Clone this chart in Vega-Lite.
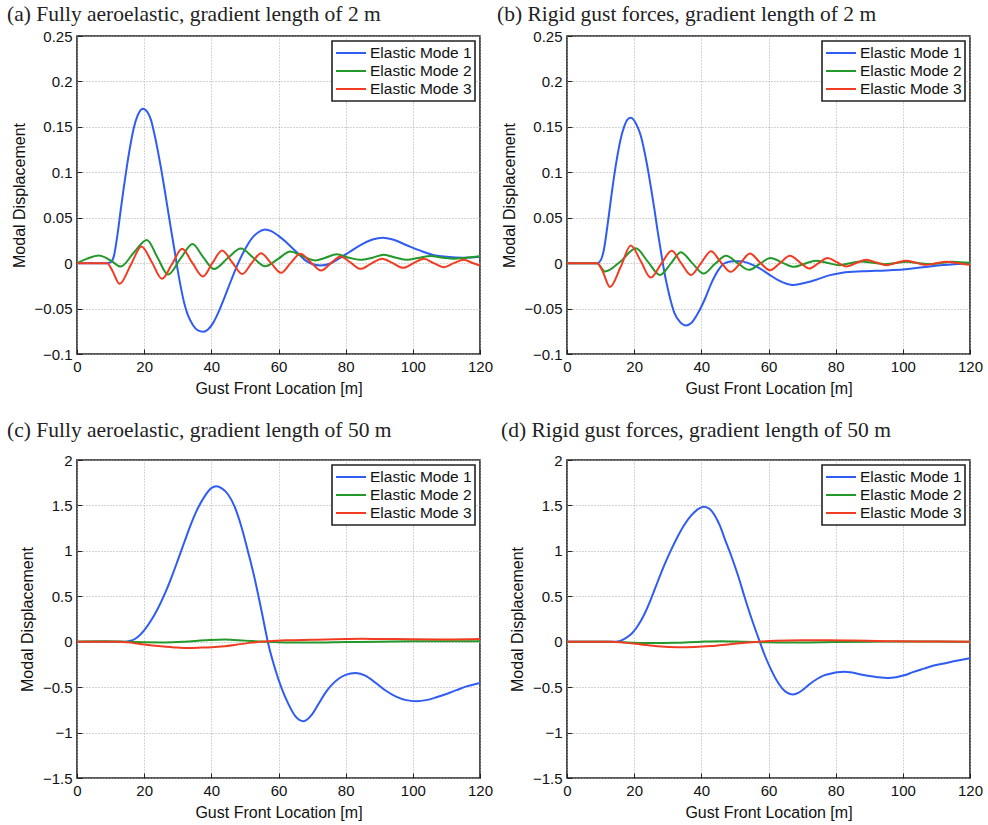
{
"$schema": "https://vega.github.io/schema/vega-lite/v6.json",
"background": "white",
"padding": {"left": 6, "top": 2, "right": 6, "bottom": 4},
"config": {
  "view": {"stroke": "#222222", "strokeWidth": 1.6},
  "font": "Liberation Sans",
  "title": {"font": "Liberation Serif", "fontSize": 21.5, "fontWeight": "normal", "anchor": "start", "frame": "group", "color": "#222222"},
  "axis": {"domain": false, "grid": true, "gridColor": "#a8a8a8", "gridDash": [1, 2], "gridWidth": 1, "ticks": true, "tickSize": -5, "tickColor": "#222222", "tickWidth": 1, "labelPadding": 10, "labelFlush": false, "labelFont": "Liberation Sans", "labelFontSize": 15, "labelColor": "#111111", "titleFont": "Liberation Sans", "titleFontSize": 16, "titleFontWeight": "normal", "titleColor": "#111111"},
  "axisY": {"titlePadding": 7},
  "axisX": {"titlePadding": 6},
  "legend": {"orient": "top-right", "offset": 5, "strokeColor": "#222222", "strokeWidth": 1.6, "fillColor": "white", "padding": 3, "rowPadding": 0, "symbolType": "M-1.875,0H1.875", "symbolSize": 256, "symbolOffset": 7, "labelOffset": 10, "symbolStrokeWidth": 2, "labelFont": "Liberation Sans", "labelFontSize": 15.5, "labelColor": "#111111", "title": null}
},
"datasets": {
 "a": [
  {"mode":"Elastic Mode 1","x":0,"y":0},{"mode":"Elastic Mode 1","x":5,"y":0},{"mode":"Elastic Mode 1","x":9,"y":0},{"mode":"Elastic Mode 1","x":10,"y":0.001},{"mode":"Elastic Mode 1","x":11,"y":0.008},{"mode":"Elastic Mode 1","x":12,"y":0.03},{"mode":"Elastic Mode 1","x":13,"y":0.058},{"mode":"Elastic Mode 1","x":14,"y":0.085},{"mode":"Elastic Mode 1","x":15,"y":0.11},{"mode":"Elastic Mode 1","x":16,"y":0.132},{"mode":"Elastic Mode 1","x":17,"y":0.15},{"mode":"Elastic Mode 1","x":18,"y":0.162},{"mode":"Elastic Mode 1","x":19.6,"y":0.17},{"mode":"Elastic Mode 1","x":21,"y":0.166},{"mode":"Elastic Mode 1","x":22,"y":0.158},{"mode":"Elastic Mode 1","x":23,"y":0.143},{"mode":"Elastic Mode 1","x":24,"y":0.125},{"mode":"Elastic Mode 1","x":25,"y":0.105},{"mode":"Elastic Mode 1","x":26,"y":0.083},{"mode":"Elastic Mode 1","x":27,"y":0.06},{"mode":"Elastic Mode 1","x":28,"y":0.037},{"mode":"Elastic Mode 1","x":29,"y":0.015},{"mode":"Elastic Mode 1","x":30,"y":-0.008},{"mode":"Elastic Mode 1","x":31,"y":-0.028},{"mode":"Elastic Mode 1","x":32,"y":-0.045},{"mode":"Elastic Mode 1","x":33,"y":-0.057},{"mode":"Elastic Mode 1","x":34.5,"y":-0.068},{"mode":"Elastic Mode 1","x":36,"y":-0.074},{"mode":"Elastic Mode 1","x":37.6,"y":-0.0755},{"mode":"Elastic Mode 1","x":39,"y":-0.073},{"mode":"Elastic Mode 1","x":40.5,"y":-0.066},{"mode":"Elastic Mode 1","x":42,"y":-0.055},{"mode":"Elastic Mode 1","x":44,"y":-0.037},{"mode":"Elastic Mode 1","x":46,"y":-0.018},{"mode":"Elastic Mode 1","x":48,"y":0},{"mode":"Elastic Mode 1","x":50,"y":0.015},{"mode":"Elastic Mode 1","x":52,"y":0.027},{"mode":"Elastic Mode 1","x":54,"y":0.034},{"mode":"Elastic Mode 1","x":56,"y":0.037},{"mode":"Elastic Mode 1","x":58,"y":0.035},{"mode":"Elastic Mode 1","x":60,"y":0.03},{"mode":"Elastic Mode 1","x":62,"y":0.024},{"mode":"Elastic Mode 1","x":64,"y":0.017},{"mode":"Elastic Mode 1","x":66,"y":0.01},{"mode":"Elastic Mode 1","x":68,"y":0.003},{"mode":"Elastic Mode 1","x":70,"y":-0.001},{"mode":"Elastic Mode 1","x":72.5,"y":-0.0026},{"mode":"Elastic Mode 1","x":75,"y":-0.001},{"mode":"Elastic Mode 1","x":78,"y":0.005},{"mode":"Elastic Mode 1","x":81,"y":0.012},{"mode":"Elastic Mode 1","x":84,"y":0.019},{"mode":"Elastic Mode 1","x":88,"y":0.026},{"mode":"Elastic Mode 1","x":91,"y":0.028},{"mode":"Elastic Mode 1","x":94,"y":0.026},{"mode":"Elastic Mode 1","x":98,"y":0.02},{"mode":"Elastic Mode 1","x":102,"y":0.014},{"mode":"Elastic Mode 1","x":106,"y":0.009},{"mode":"Elastic Mode 1","x":110,"y":0.007},{"mode":"Elastic Mode 1","x":115,"y":0.006},{"mode":"Elastic Mode 1","x":120,"y":0.007},
  {"mode":"Elastic Mode 2","x":0,"y":0},{"mode":"Elastic Mode 2","x":3,"y":0.005},{"mode":"Elastic Mode 2","x":6.5,"y":0.0085},{"mode":"Elastic Mode 2","x":10,"y":0.003},{"mode":"Elastic Mode 2","x":13,"y":-0.0037},{"mode":"Elastic Mode 2","x":17,"y":0.012},{"mode":"Elastic Mode 2","x":20.8,"y":0.0255},{"mode":"Elastic Mode 2","x":24,"y":0.006},{"mode":"Elastic Mode 2","x":27.1,"y":-0.0125},{"mode":"Elastic Mode 2","x":31,"y":0.006},{"mode":"Elastic Mode 2","x":34.4,"y":0.021},{"mode":"Elastic Mode 2","x":37.5,"y":0.007},{"mode":"Elastic Mode 2","x":40.8,"y":-0.0065},{"mode":"Elastic Mode 2","x":45,"y":0.006},{"mode":"Elastic Mode 2","x":48.8,"y":0.016},{"mode":"Elastic Mode 2","x":52.5,"y":0.006},{"mode":"Elastic Mode 2","x":56,"y":-0.0035},{"mode":"Elastic Mode 2","x":60,"y":0.005},{"mode":"Elastic Mode 2","x":63.5,"y":0.0129},{"mode":"Elastic Mode 2","x":67,"y":0.008},{"mode":"Elastic Mode 2","x":71,"y":0.003},{"mode":"Elastic Mode 2","x":74,"y":0.006},{"mode":"Elastic Mode 2","x":77.3,"y":0.0097},{"mode":"Elastic Mode 2","x":81,"y":0.006},{"mode":"Elastic Mode 2","x":84.2,"y":0.0037},{"mode":"Elastic Mode 2","x":88,"y":0.006},{"mode":"Elastic Mode 2","x":91.3,"y":0.0092},{"mode":"Elastic Mode 2","x":95,"y":0.006},{"mode":"Elastic Mode 2","x":98.2,"y":0.0037},{"mode":"Elastic Mode 2","x":102,"y":0.006},{"mode":"Elastic Mode 2","x":105.2,"y":0.0078},{"mode":"Elastic Mode 2","x":109,"y":0.006},{"mode":"Elastic Mode 2","x":112.2,"y":0.0048},{"mode":"Elastic Mode 2","x":116,"y":0.006},{"mode":"Elastic Mode 2","x":120,"y":0.0075},
  {"mode":"Elastic Mode 3","x":0,"y":0},{"mode":"Elastic Mode 3","x":9,"y":0},{"mode":"Elastic Mode 3","x":10.5,"y":-0.008},{"mode":"Elastic Mode 3","x":12.7,"y":-0.0228},{"mode":"Elastic Mode 3","x":16,"y":-0.002},{"mode":"Elastic Mode 3","x":19.2,"y":0.0184},{"mode":"Elastic Mode 3","x":22.3,"y":0.001},{"mode":"Elastic Mode 3","x":25.3,"y":-0.0173},{"mode":"Elastic Mode 3","x":28.3,"y":-0.001},{"mode":"Elastic Mode 3","x":31.3,"y":0.0158},{"mode":"Elastic Mode 3","x":34.4,"y":0},{"mode":"Elastic Mode 3","x":37.5,"y":-0.0147},{"mode":"Elastic Mode 3","x":40.3,"y":0},{"mode":"Elastic Mode 3","x":43.2,"y":0.014},{"mode":"Elastic Mode 3","x":46.2,"y":0.001},{"mode":"Elastic Mode 3","x":49.2,"y":-0.012},{"mode":"Elastic Mode 3","x":52,"y":0},{"mode":"Elastic Mode 3","x":54.8,"y":0.011},{"mode":"Elastic Mode 3","x":57.8,"y":0},{"mode":"Elastic Mode 3","x":60.8,"y":-0.0107},{"mode":"Elastic Mode 3","x":63.6,"y":0},{"mode":"Elastic Mode 3","x":66.5,"y":0.0103},{"mode":"Elastic Mode 3","x":69.6,"y":0.001},{"mode":"Elastic Mode 3","x":72.7,"y":-0.0081},{"mode":"Elastic Mode 3","x":75.6,"y":0},{"mode":"Elastic Mode 3","x":78.5,"y":0.0074},{"mode":"Elastic Mode 3","x":81.5,"y":0.0005},{"mode":"Elastic Mode 3","x":84.4,"y":-0.0063},{"mode":"Elastic Mode 3","x":87.6,"y":-0.0005},{"mode":"Elastic Mode 3","x":90.9,"y":0.0048},{"mode":"Elastic Mode 3","x":94,"y":0},{"mode":"Elastic Mode 3","x":97.1,"y":-0.0051},{"mode":"Elastic Mode 3","x":100.2,"y":0},{"mode":"Elastic Mode 3","x":103.3,"y":0.0048},{"mode":"Elastic Mode 3","x":106.2,"y":0},{"mode":"Elastic Mode 3","x":109.2,"y":-0.0044},{"mode":"Elastic Mode 3","x":112.2,"y":0},{"mode":"Elastic Mode 3","x":115.2,"y":0.0037},{"mode":"Elastic Mode 3","x":117.6,"y":0.0005},{"mode":"Elastic Mode 3","x":120,"y":-0.0026}
 ],
 "b": [
  {"mode":"Elastic Mode 1","x":0,"y":0},{"mode":"Elastic Mode 1","x":5,"y":0},{"mode":"Elastic Mode 1","x":9,"y":0},{"mode":"Elastic Mode 1","x":10,"y":0.003},{"mode":"Elastic Mode 1","x":11,"y":0.015},{"mode":"Elastic Mode 1","x":12,"y":0.04},{"mode":"Elastic Mode 1","x":13,"y":0.068},{"mode":"Elastic Mode 1","x":14,"y":0.095},{"mode":"Elastic Mode 1","x":15,"y":0.118},{"mode":"Elastic Mode 1","x":16,"y":0.137},{"mode":"Elastic Mode 1","x":17,"y":0.15},{"mode":"Elastic Mode 1","x":18,"y":0.158},{"mode":"Elastic Mode 1","x":19,"y":0.16},{"mode":"Elastic Mode 1","x":20,"y":0.157},{"mode":"Elastic Mode 1","x":21,"y":0.15},{"mode":"Elastic Mode 1","x":22,"y":0.14},{"mode":"Elastic Mode 1","x":23,"y":0.124},{"mode":"Elastic Mode 1","x":24,"y":0.105},{"mode":"Elastic Mode 1","x":25,"y":0.083},{"mode":"Elastic Mode 1","x":26,"y":0.06},{"mode":"Elastic Mode 1","x":27,"y":0.035},{"mode":"Elastic Mode 1","x":28,"y":0.012},{"mode":"Elastic Mode 1","x":29,"y":-0.01},{"mode":"Elastic Mode 1","x":30,"y":-0.028},{"mode":"Elastic Mode 1","x":31,"y":-0.043},{"mode":"Elastic Mode 1","x":32,"y":-0.055},{"mode":"Elastic Mode 1","x":33.5,"y":-0.064},{"mode":"Elastic Mode 1","x":35.5,"y":-0.0685},{"mode":"Elastic Mode 1","x":37,"y":-0.066},{"mode":"Elastic Mode 1","x":39,"y":-0.055},{"mode":"Elastic Mode 1","x":41,"y":-0.04},{"mode":"Elastic Mode 1","x":43,"y":-0.022},{"mode":"Elastic Mode 1","x":45,"y":-0.008},{"mode":"Elastic Mode 1","x":47,"y":0},{"mode":"Elastic Mode 1","x":49.5,"y":0.002},{"mode":"Elastic Mode 1","x":51.7,"y":0.0022},{"mode":"Elastic Mode 1","x":54,"y":0},{"mode":"Elastic Mode 1","x":57,"y":-0.005},{"mode":"Elastic Mode 1","x":60,"y":-0.012},{"mode":"Elastic Mode 1","x":63,"y":-0.019},{"mode":"Elastic Mode 1","x":67,"y":-0.024},{"mode":"Elastic Mode 1","x":70,"y":-0.0225},{"mode":"Elastic Mode 1","x":74,"y":-0.0185},{"mode":"Elastic Mode 1","x":78,"y":-0.0135},{"mode":"Elastic Mode 1","x":82,"y":-0.0105},{"mode":"Elastic Mode 1","x":88,"y":-0.009},{"mode":"Elastic Mode 1","x":95,"y":-0.008},{"mode":"Elastic Mode 1","x":100,"y":-0.007},{"mode":"Elastic Mode 1","x":106,"y":-0.0045},{"mode":"Elastic Mode 1","x":112,"y":-0.002},{"mode":"Elastic Mode 1","x":120,"y":0},
  {"mode":"Elastic Mode 2","x":0,"y":0},{"mode":"Elastic Mode 2","x":9,"y":0},{"mode":"Elastic Mode 2","x":11.3,"y":-0.0093},{"mode":"Elastic Mode 2","x":16,"y":0.002},{"mode":"Elastic Mode 2","x":20.5,"y":0.0163},{"mode":"Elastic Mode 2","x":24,"y":0.002},{"mode":"Elastic Mode 2","x":27.7,"y":-0.013},{"mode":"Elastic Mode 2","x":31,"y":0},{"mode":"Elastic Mode 2","x":33.9,"y":0.0119},{"mode":"Elastic Mode 2","x":37.3,"y":0},{"mode":"Elastic Mode 2","x":40.7,"y":-0.0115},{"mode":"Elastic Mode 2","x":44,"y":-0.001},{"mode":"Elastic Mode 2","x":47.4,"y":0.0081},{"mode":"Elastic Mode 2","x":50.8,"y":0},{"mode":"Elastic Mode 2","x":54.2,"y":-0.0074},{"mode":"Elastic Mode 2","x":57.4,"y":-0.0008},{"mode":"Elastic Mode 2","x":60.6,"y":0.0056},{"mode":"Elastic Mode 2","x":64.1,"y":0.0006},{"mode":"Elastic Mode 2","x":67.6,"y":-0.0041},{"mode":"Elastic Mode 2","x":70.8,"y":-0.0006},{"mode":"Elastic Mode 2","x":74.1,"y":0.0026},{"mode":"Elastic Mode 2","x":77.6,"y":0.0002},{"mode":"Elastic Mode 2","x":81.1,"y":-0.0022},{"mode":"Elastic Mode 2","x":84.3,"y":0},{"mode":"Elastic Mode 2","x":87.6,"y":0.0019},{"mode":"Elastic Mode 2","x":91.1,"y":0.0004},{"mode":"Elastic Mode 2","x":94.6,"y":-0.0011},{"mode":"Elastic Mode 2","x":97.8,"y":0.0002},{"mode":"Elastic Mode 2","x":101,"y":0.0015},{"mode":"Elastic Mode 2","x":104.5,"y":0.0002},{"mode":"Elastic Mode 2","x":108,"y":-0.001},{"mode":"Elastic Mode 2","x":111.3,"y":0.0002},{"mode":"Elastic Mode 2","x":114.5,"y":0.0015},{"mode":"Elastic Mode 2","x":117,"y":0.001},{"mode":"Elastic Mode 2","x":120,"y":0.0005},
  {"mode":"Elastic Mode 3","x":0,"y":0},{"mode":"Elastic Mode 3","x":9,"y":0},{"mode":"Elastic Mode 3","x":10.5,"y":-0.008},{"mode":"Elastic Mode 3","x":12.8,"y":-0.0263},{"mode":"Elastic Mode 3","x":16,"y":-0.004},{"mode":"Elastic Mode 3","x":19,"y":0.0193},{"mode":"Elastic Mode 3","x":22,"y":0.002},{"mode":"Elastic Mode 3","x":24.9,"y":-0.0159},{"mode":"Elastic Mode 3","x":28,"y":-0.001},{"mode":"Elastic Mode 3","x":31.2,"y":0.0137},{"mode":"Elastic Mode 3","x":34,"y":0},{"mode":"Elastic Mode 3","x":36.9,"y":-0.013},{"mode":"Elastic Mode 3","x":39.9,"y":0},{"mode":"Elastic Mode 3","x":42.9,"y":0.013},{"mode":"Elastic Mode 3","x":45.8,"y":0.001},{"mode":"Elastic Mode 3","x":48.7,"y":-0.0096},{"mode":"Elastic Mode 3","x":51.6,"y":0},{"mode":"Elastic Mode 3","x":54.5,"y":0.0107},{"mode":"Elastic Mode 3","x":57.4,"y":0.001},{"mode":"Elastic Mode 3","x":60.4,"y":-0.0078},{"mode":"Elastic Mode 3","x":63.4,"y":0},{"mode":"Elastic Mode 3","x":66.4,"y":0.0081},{"mode":"Elastic Mode 3","x":69.3,"y":0.001},{"mode":"Elastic Mode 3","x":72.1,"y":-0.0059},{"mode":"Elastic Mode 3","x":74.9,"y":0},{"mode":"Elastic Mode 3","x":77.6,"y":0.0056},{"mode":"Elastic Mode 3","x":80.4,"y":0.001},{"mode":"Elastic Mode 3","x":83.1,"y":-0.0037},{"mode":"Elastic Mode 3","x":86.1,"y":0},{"mode":"Elastic Mode 3","x":89.1,"y":0.0037},{"mode":"Elastic Mode 3","x":92.1,"y":0.0007},{"mode":"Elastic Mode 3","x":95.1,"y":-0.0022},{"mode":"Elastic Mode 3","x":98,"y":0.0002},{"mode":"Elastic Mode 3","x":101,"y":0.0026},{"mode":"Elastic Mode 3","x":104,"y":0.0003},{"mode":"Elastic Mode 3","x":107,"y":-0.0019},{"mode":"Elastic Mode 3","x":110,"y":0},{"mode":"Elastic Mode 3","x":113,"y":0.0015},{"mode":"Elastic Mode 3","x":116.5,"y":0},{"mode":"Elastic Mode 3","x":120,"y":-0.0019}
 ],
 "c": [
  {"mode":"Elastic Mode 1","x":0,"y":0},{"mode":"Elastic Mode 1","x":10,"y":0},{"mode":"Elastic Mode 1","x":14,"y":0},{"mode":"Elastic Mode 1","x":15,"y":0.003},{"mode":"Elastic Mode 1","x":16,"y":0.01},{"mode":"Elastic Mode 1","x":18,"y":0.05},{"mode":"Elastic Mode 1","x":20,"y":0.125},{"mode":"Elastic Mode 1","x":22,"y":0.23},{"mode":"Elastic Mode 1","x":24,"y":0.36},{"mode":"Elastic Mode 1","x":26,"y":0.515},{"mode":"Elastic Mode 1","x":28,"y":0.695},{"mode":"Elastic Mode 1","x":30,"y":0.895},{"mode":"Elastic Mode 1","x":32,"y":1.1},{"mode":"Elastic Mode 1","x":34,"y":1.3},{"mode":"Elastic Mode 1","x":36,"y":1.47},{"mode":"Elastic Mode 1","x":38,"y":1.6},{"mode":"Elastic Mode 1","x":40,"y":1.69},{"mode":"Elastic Mode 1","x":41.5,"y":1.71},{"mode":"Elastic Mode 1","x":43,"y":1.69},{"mode":"Elastic Mode 1","x":45,"y":1.62},{"mode":"Elastic Mode 1","x":47,"y":1.48},{"mode":"Elastic Mode 1","x":49,"y":1.26},{"mode":"Elastic Mode 1","x":51,"y":0.98},{"mode":"Elastic Mode 1","x":53,"y":0.68},{"mode":"Elastic Mode 1","x":55,"y":0.33},{"mode":"Elastic Mode 1","x":57,"y":-0.03},{"mode":"Elastic Mode 1","x":59,"y":-0.3},{"mode":"Elastic Mode 1","x":61,"y":-0.52},{"mode":"Elastic Mode 1","x":63,"y":-0.69},{"mode":"Elastic Mode 1","x":65,"y":-0.82},{"mode":"Elastic Mode 1","x":67.4,"y":-0.876},{"mode":"Elastic Mode 1","x":70,"y":-0.8},{"mode":"Elastic Mode 1","x":72,"y":-0.68},{"mode":"Elastic Mode 1","x":74,"y":-0.56},{"mode":"Elastic Mode 1","x":76,"y":-0.47},{"mode":"Elastic Mode 1","x":78,"y":-0.405},{"mode":"Elastic Mode 1","x":80,"y":-0.365},{"mode":"Elastic Mode 1","x":83,"y":-0.343},{"mode":"Elastic Mode 1","x":86,"y":-0.375},{"mode":"Elastic Mode 1","x":89,"y":-0.455},{"mode":"Elastic Mode 1","x":92,"y":-0.54},{"mode":"Elastic Mode 1","x":95,"y":-0.605},{"mode":"Elastic Mode 1","x":98,"y":-0.643},{"mode":"Elastic Mode 1","x":101,"y":-0.655},{"mode":"Elastic Mode 1","x":104,"y":-0.643},{"mode":"Elastic Mode 1","x":107,"y":-0.612},{"mode":"Elastic Mode 1","x":110,"y":-0.575},{"mode":"Elastic Mode 1","x":113,"y":-0.533},{"mode":"Elastic Mode 1","x":116,"y":-0.492},{"mode":"Elastic Mode 1","x":120,"y":-0.453},
  {"mode":"Elastic Mode 2","x":0,"y":0},{"mode":"Elastic Mode 2","x":8,"y":0.004},{"mode":"Elastic Mode 2","x":14,"y":0},{"mode":"Elastic Mode 2","x":20,"y":-0.006},{"mode":"Elastic Mode 2","x":26,"y":-0.008},{"mode":"Elastic Mode 2","x":32,"y":0},{"mode":"Elastic Mode 2","x":38,"y":0.015},{"mode":"Elastic Mode 2","x":44,"y":0.025},{"mode":"Elastic Mode 2","x":50,"y":0.012},{"mode":"Elastic Mode 2","x":56,"y":0},{"mode":"Elastic Mode 2","x":62,"y":-0.008},{"mode":"Elastic Mode 2","x":70,"y":-0.01},{"mode":"Elastic Mode 2","x":80,"y":-0.004},{"mode":"Elastic Mode 2","x":90,"y":0},{"mode":"Elastic Mode 2","x":100,"y":0.004},{"mode":"Elastic Mode 2","x":110,"y":0.005},{"mode":"Elastic Mode 2","x":120,"y":0.005},
  {"mode":"Elastic Mode 3","x":0,"y":0},{"mode":"Elastic Mode 3","x":12,"y":0},{"mode":"Elastic Mode 3","x":16,"y":-0.01},{"mode":"Elastic Mode 3","x":20,"y":-0.03},{"mode":"Elastic Mode 3","x":25,"y":-0.05},{"mode":"Elastic Mode 3","x":30,"y":-0.065},{"mode":"Elastic Mode 3","x":33,"y":-0.07},{"mode":"Elastic Mode 3","x":37,"y":-0.065},{"mode":"Elastic Mode 3","x":42,"y":-0.055},{"mode":"Elastic Mode 3","x":47,"y":-0.035},{"mode":"Elastic Mode 3","x":52,"y":-0.01},{"mode":"Elastic Mode 3","x":57,"y":0.005},{"mode":"Elastic Mode 3","x":62,"y":0.015},{"mode":"Elastic Mode 3","x":70,"y":0.022},{"mode":"Elastic Mode 3","x":80,"y":0.03},{"mode":"Elastic Mode 3","x":85,"y":0.032},{"mode":"Elastic Mode 3","x":90,"y":0.03},{"mode":"Elastic Mode 3","x":100,"y":0.028},{"mode":"Elastic Mode 3","x":110,"y":0.025},{"mode":"Elastic Mode 3","x":120,"y":0.03}
 ],
 "d": [
  {"mode":"Elastic Mode 1","x":0,"y":0},{"mode":"Elastic Mode 1","x":10,"y":0},{"mode":"Elastic Mode 1","x":14,"y":0},{"mode":"Elastic Mode 1","x":15,"y":0.003},{"mode":"Elastic Mode 1","x":16,"y":0.012},{"mode":"Elastic Mode 1","x":17.5,"y":0.04},{"mode":"Elastic Mode 1","x":19.3,"y":0.09},{"mode":"Elastic Mode 1","x":21,"y":0.17},{"mode":"Elastic Mode 1","x":23,"y":0.3},{"mode":"Elastic Mode 1","x":25,"y":0.47},{"mode":"Elastic Mode 1","x":27,"y":0.66},{"mode":"Elastic Mode 1","x":29,"y":0.845},{"mode":"Elastic Mode 1","x":31,"y":1.01},{"mode":"Elastic Mode 1","x":33,"y":1.16},{"mode":"Elastic Mode 1","x":35,"y":1.29},{"mode":"Elastic Mode 1","x":37,"y":1.39},{"mode":"Elastic Mode 1","x":39,"y":1.46},{"mode":"Elastic Mode 1","x":40.8,"y":1.486},{"mode":"Elastic Mode 1","x":42.5,"y":1.46},{"mode":"Elastic Mode 1","x":44,"y":1.39},{"mode":"Elastic Mode 1","x":45.5,"y":1.28},{"mode":"Elastic Mode 1","x":47,"y":1.13},{"mode":"Elastic Mode 1","x":49,"y":0.935},{"mode":"Elastic Mode 1","x":51,"y":0.72},{"mode":"Elastic Mode 1","x":52.9,"y":0.49},{"mode":"Elastic Mode 1","x":55,"y":0.25},{"mode":"Elastic Mode 1","x":57.4,"y":0},{"mode":"Elastic Mode 1","x":59,"y":-0.16},{"mode":"Elastic Mode 1","x":60.8,"y":-0.31},{"mode":"Elastic Mode 1","x":62.5,"y":-0.43},{"mode":"Elastic Mode 1","x":64,"y":-0.51},{"mode":"Elastic Mode 1","x":65.5,"y":-0.56},{"mode":"Elastic Mode 1","x":67.3,"y":-0.58},{"mode":"Elastic Mode 1","x":69,"y":-0.56},{"mode":"Elastic Mode 1","x":70.7,"y":-0.515},{"mode":"Elastic Mode 1","x":72.5,"y":-0.46},{"mode":"Elastic Mode 1","x":74.7,"y":-0.405},{"mode":"Elastic Mode 1","x":76.5,"y":-0.37},{"mode":"Elastic Mode 1","x":78.6,"y":-0.35},{"mode":"Elastic Mode 1","x":80.5,"y":-0.335},{"mode":"Elastic Mode 1","x":82.6,"y":-0.33},{"mode":"Elastic Mode 1","x":85,"y":-0.34},{"mode":"Elastic Mode 1","x":87.5,"y":-0.36},{"mode":"Elastic Mode 1","x":90,"y":-0.378},{"mode":"Elastic Mode 1","x":92.5,"y":-0.39},{"mode":"Elastic Mode 1","x":95.5,"y":-0.398},{"mode":"Elastic Mode 1","x":98,"y":-0.39},{"mode":"Elastic Mode 1","x":100.4,"y":-0.37},{"mode":"Elastic Mode 1","x":103,"y":-0.335},{"mode":"Elastic Mode 1","x":106.3,"y":-0.296},{"mode":"Elastic Mode 1","x":109,"y":-0.265},{"mode":"Elastic Mode 1","x":112.3,"y":-0.24},{"mode":"Elastic Mode 1","x":116,"y":-0.21},{"mode":"Elastic Mode 1","x":120,"y":-0.182},
  {"mode":"Elastic Mode 2","x":0,"y":0},{"mode":"Elastic Mode 2","x":12,"y":0},{"mode":"Elastic Mode 2","x":18,"y":-0.008},{"mode":"Elastic Mode 2","x":25,"y":-0.015},{"mode":"Elastic Mode 2","x":32,"y":-0.012},{"mode":"Elastic Mode 2","x":40,"y":0},{"mode":"Elastic Mode 2","x":46,"y":0.005},{"mode":"Elastic Mode 2","x":52,"y":0},{"mode":"Elastic Mode 2","x":58,"y":-0.005},{"mode":"Elastic Mode 2","x":65,"y":-0.01},{"mode":"Elastic Mode 2","x":72,"y":-0.008},{"mode":"Elastic Mode 2","x":80,"y":-0.003},{"mode":"Elastic Mode 2","x":90,"y":0},{"mode":"Elastic Mode 2","x":100,"y":0.002},{"mode":"Elastic Mode 2","x":110,"y":0.001},{"mode":"Elastic Mode 2","x":120,"y":0},
  {"mode":"Elastic Mode 3","x":0,"y":0},{"mode":"Elastic Mode 3","x":13,"y":0},{"mode":"Elastic Mode 3","x":17,"y":-0.01},{"mode":"Elastic Mode 3","x":22,"y":-0.03},{"mode":"Elastic Mode 3","x":27,"y":-0.05},{"mode":"Elastic Mode 3","x":33,"y":-0.06},{"mode":"Elastic Mode 3","x":38,"y":-0.058},{"mode":"Elastic Mode 3","x":43,"y":-0.048},{"mode":"Elastic Mode 3","x":48,"y":-0.03},{"mode":"Elastic Mode 3","x":53,"y":-0.012},{"mode":"Elastic Mode 3","x":57,"y":0},{"mode":"Elastic Mode 3","x":62,"y":0.01},{"mode":"Elastic Mode 3","x":70,"y":0.015},{"mode":"Elastic Mode 3","x":78,"y":0.015},{"mode":"Elastic Mode 3","x":85,"y":0.012},{"mode":"Elastic Mode 3","x":95,"y":0.006},{"mode":"Elastic Mode 3","x":105,"y":0.003},{"mode":"Elastic Mode 3","x":120,"y":0}
 ]
},
"columns": 2,
"bounds": "flush",
"spacing": {"row": 106, "column": 87},
"resolve": {"legend": {"color": "independent"}, "scale": {"y": "independent"}},
"concat": [
 {
  "width": 403, "height": 318,
  "title": {"text": "(a) Fully aeroelastic, gradient length of 2 m", "offset": 4, "dx": -70},
  "data": {"name": "a"},
  "mark": {"type": "line", "interpolate": "monotone", "strokeWidth": 2, "clip": true},
  "encoding": {
   "x": {"field": "x", "type": "quantitative", "scale": {"domain": [0, 120], "nice": false}, "axis": {"values": [0, 20, 40, 60, 80, 100, 120], "title": "Gust Front Location [m]"}},
   "y": {"field": "y", "type": "quantitative", "scale": {"domain": [-0.1, 0.25], "nice": false}, "axis": {"values": [-0.1, -0.05, 0, 0.05, 0.1, 0.15, 0.2, 0.25], "format": "~g", "title": "Modal Displacement"}},
   "color": {"field": "mode", "type": "nominal", "scale": {"domain": ["Elastic Mode 1", "Elastic Mode 2", "Elastic Mode 3"], "range": ["#2f5cf2", "#22992a", "#f23c22"]}}
  }
 },
 {
  "width": 403, "height": 318,
  "title": {"text": "(b) Rigid gust forces, gradient length of 2 m", "offset": 4, "dx": -70},
  "data": {"name": "b"},
  "mark": {"type": "line", "interpolate": "monotone", "strokeWidth": 2, "clip": true},
  "encoding": {
   "x": {"field": "x", "type": "quantitative", "scale": {"domain": [0, 120], "nice": false}, "axis": {"values": [0, 20, 40, 60, 80, 100, 120], "title": "Gust Front Location [m]"}},
   "y": {"field": "y", "type": "quantitative", "scale": {"domain": [-0.1, 0.25], "nice": false}, "axis": {"values": [-0.1, -0.05, 0, 0.05, 0.1, 0.15, 0.2, 0.25], "format": "~g", "title": "Modal Displacement"}},
   "color": {"field": "mode", "type": "nominal", "scale": {"domain": ["Elastic Mode 1", "Elastic Mode 2", "Elastic Mode 3"], "range": ["#2f5cf2", "#22992a", "#f23c22"]}}
  }
 },
 {
  "width": 403, "height": 318,
  "title": {"text": "(c) Fully aeroelastic, gradient length of 50 m", "offset": 12, "dx": -70},
  "data": {"name": "c"},
  "mark": {"type": "line", "interpolate": "monotone", "strokeWidth": 2, "clip": true},
  "encoding": {
   "x": {"field": "x", "type": "quantitative", "scale": {"domain": [0, 120], "nice": false}, "axis": {"values": [0, 20, 40, 60, 80, 100, 120], "title": "Gust Front Location [m]"}},
   "y": {"field": "y", "type": "quantitative", "scale": {"domain": [-1.5, 2], "nice": false}, "axis": {"values": [-1.5, -1, -0.5, 0, 0.5, 1, 1.5, 2], "format": "~g", "title": "Modal Displacement"}},
   "color": {"field": "mode", "type": "nominal", "scale": {"domain": ["Elastic Mode 1", "Elastic Mode 2", "Elastic Mode 3"], "range": ["#2f5cf2", "#22992a", "#f23c22"]}}
  }
 },
 {
  "width": 403, "height": 318,
  "title": {"text": "(d) Rigid gust forces, gradient length of 50 m", "offset": 12, "dx": -66},
  "data": {"name": "d"},
  "mark": {"type": "line", "interpolate": "monotone", "strokeWidth": 2, "clip": true},
  "encoding": {
   "x": {"field": "x", "type": "quantitative", "scale": {"domain": [0, 120], "nice": false}, "axis": {"values": [0, 20, 40, 60, 80, 100, 120], "title": "Gust Front Location [m]"}},
   "y": {"field": "y", "type": "quantitative", "scale": {"domain": [-1.5, 2], "nice": false}, "axis": {"values": [-1.5, -1, -0.5, 0, 0.5, 1, 1.5, 2], "format": "~g", "title": "Modal Displacement"}},
   "color": {"field": "mode", "type": "nominal", "scale": {"domain": ["Elastic Mode 1", "Elastic Mode 2", "Elastic Mode 3"], "range": ["#2f5cf2", "#22992a", "#f23c22"]}}
  }
 }
]
}
